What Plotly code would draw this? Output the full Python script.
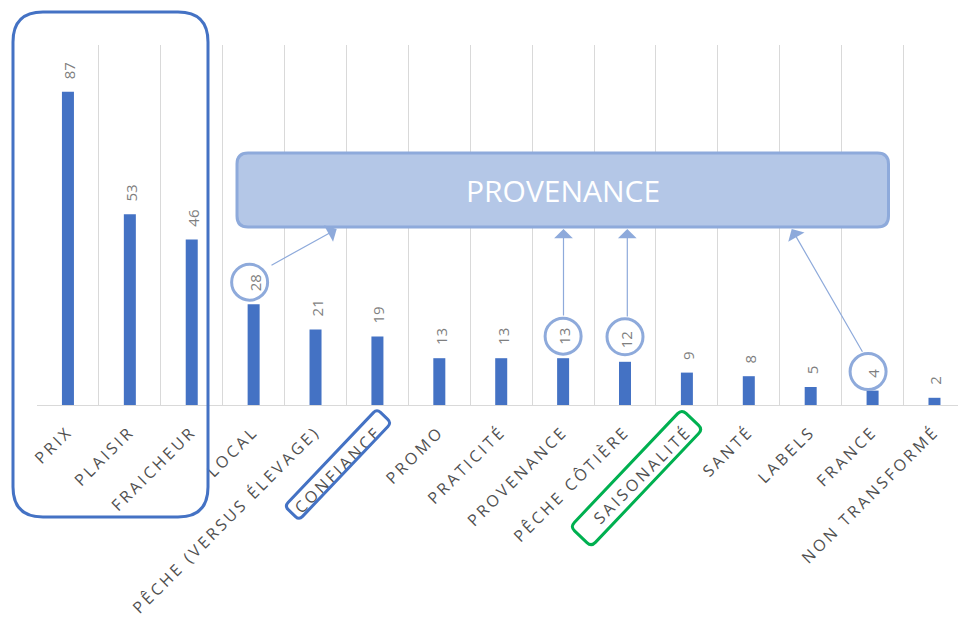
import math
import plotly.graph_objects as go

# ---------------- data ----------------
categories = ["PRIX", "PLAISIR", "FRAICHEUR", "LOCAL", "PÊCHE (VERSUS ÉLEVAGE)",
              "CONFIANCE", "PROMO", "PRATICITÉ", "PROVENANCE", "PÊCHE CÔTIÈRE",
              "SAISONALITÉ", "SANTÉ", "LABELS", "FRANCE", "NON TRANSFORMÉ"]
values = [87, 53, 46, 28, 21, 19, 13, 13, 13, 12, 9, 8, 5, 4, 2]
circled = ["LOCAL", "PROVENANCE", "PÊCHE CÔTIÈRE", "FRANCE"]
group_title = "PROVENANCE"

# ---------------- layout constants ----------------
W, H = 959, 619
ML, MR, MT, MB = 37, 1, 45, 214
PW, PH = W - ML - MR, H - MT - MB

BAR = "#4472c4"
LIGHT = "#8eaadb"
FILL = "#b4c7e7"
GRID = "#d9d9d9"


def px(x):
    return (x - ML) / PW


def py(y):
    return (H - MB - y) / PH


def rounded_rect(cx, cy, L, Wd, ang, r):
    a, b = L / 2, Wd / 2
    c, s = math.cos(math.radians(ang)), math.sin(math.radians(ang))

    def t(u, v):
        sx = cx + u * c - v * s
        sy = cy + u * s + v * c
        return f"{px(sx):.5f},{py(sy):.5f}"

    p = f"M {t(-a + r, -b)} L {t(a - r, -b)} Q {t(a, -b)} {t(a, -b + r)} "
    p += f"L {t(a, b - r)} Q {t(a, b)} {t(a - r, b)} "
    p += f"L {t(-a + r, b)} Q {t(-a, b)} {t(-a, b - r)} "
    p += f"L {t(-a, -b + r)} Q {t(-a, -b)} {t(-a + r, -b)} Z"
    return p


fig = go.Figure()
fig.add_trace(go.Bar(x=categories, y=values, marker_color=BAR, marker_line_width=0,
                     hoverinfo="skip"))

shapes = []
annotations = []

# value labels (rotated)
for c, v in zip(categories, values):
    annotations.append(dict(x=c, y=v, xref="x", yref="y", text=str(v), showarrow=False,
                            textangle=-90, yanchor="bottom", xanchor="center", yshift=11,
                            xshift=1, font=dict(family="Open Sans", size=15, color="#7f7f7f")))

# circles around some labels
circle_shift = {"LOCAL": (-4, 22), "PROVENANCE": (0, 22), "PÊCHE CÔTIÈRE": (0, 25), "FRANCE": (-4.5, 19)}
for c in circled:
    v = values[categories.index(c)]
    dx, dy = circle_shift[c]
    shapes.append(dict(type="circle", xref="x", yref="y", xsizemode="pixel", ysizemode="pixel",
                       xanchor=c, yanchor=v, x0=dx - 18, x1=dx + 18, y0=dy - 18, y1=dy + 18,
                       line=dict(color=LIGHT, width=3), fillcolor="rgba(0,0,0,0)", layer="above"))

# big rounded frame around first 3 bars
shapes.append(dict(type="path", xref="paper", yref="paper",
                   path=rounded_rect((13 + 208) / 2, (12 + 517) / 2, 195, 505, 0, 30),
                   line=dict(color=BAR, width=3), fillcolor="rgba(0,0,0,0)", layer="above"))

# PROVENANCE box
shapes.append(dict(type="path", xref="paper", yref="paper",
                   path=rounded_rect((237 + 888.5) / 2, (153 + 227) / 2, 651.5, 74, 0, 11),
                   line=dict(color=LIGHT, width=3), fillcolor=FILL, layer="above"))
annotations.append(dict(x=px(562.5), y=py(190), xref="paper", yref="paper", text=group_title,
                        showarrow=False, font=dict(family="Open Sans", size=30, color="white")))

# rotated boxes around CONFIANCE and SAISONALITÉ
shapes.append(dict(type="path", xref="paper", yref="paper",
                   path=rounded_rect(338, 464.5, 134, 20, -46.5, 5),
                   line=dict(color=BAR, width=3), fillcolor="rgba(0,0,0,0)", layer="above"))
shapes.append(dict(type="path", xref="paper", yref="paper",
                   path=rounded_rect(636.5, 478, 162, 29, -46.5, 6),
                   line=dict(color="#00b050", width=3), fillcolor="rgba(0,0,0,0)", layer="above"))

# arrows (head at box, tail at circle)
arrows = [((336.7, 229), (270, 266)), ((563.5, 229), (563.5, 317)),
          ((627.3, 229), (627.3, 318)), ((791.7, 229), (863.3, 353.3))]
for (hx, hy), (tx, ty) in arrows:
    annotations.append(dict(x=px(hx), y=py(hy), xref="paper", yref="paper", text="",
                            showarrow=True, ax=tx - hx, ay=ty - hy, axref="pixel", ayref="pixel",
                            arrowhead=1, arrowsize=2.6, arrowwidth=1.2, arrowcolor=LIGHT,
                            standoff=0, startstandoff=0))

fig.update_layout(
    width=W, height=H, margin=dict(l=ML, r=MR, t=MT, b=MB, pad=0),
    paper_bgcolor="white", plot_bgcolor="white", showlegend=False,
    bargap=0.806, shapes=shapes, annotations=annotations,
    font=dict(family="Open Sans", color="#595959"),
)
fig.update_xaxes(type="category", range=[-0.5, 14.38], tickson="boundaries",
                 showgrid=True, gridcolor=GRID, gridwidth=1, showline=True, linecolor=GRID,
                 linewidth=1, ticks="", tickangle=-45, ticklabelstandoff=10,
                 tickfont=dict(family="Open Sans", size=16, color="#505050"))
fig.update_yaxes(range=[0, 100], showgrid=False, showticklabels=False, zeroline=False,
                 showline=False, ticks="")

fig.write_html("out.html", post_script="document.querySelectorAll('.xtick text').forEach(function(t){t.style.letterSpacing='3px';});")
